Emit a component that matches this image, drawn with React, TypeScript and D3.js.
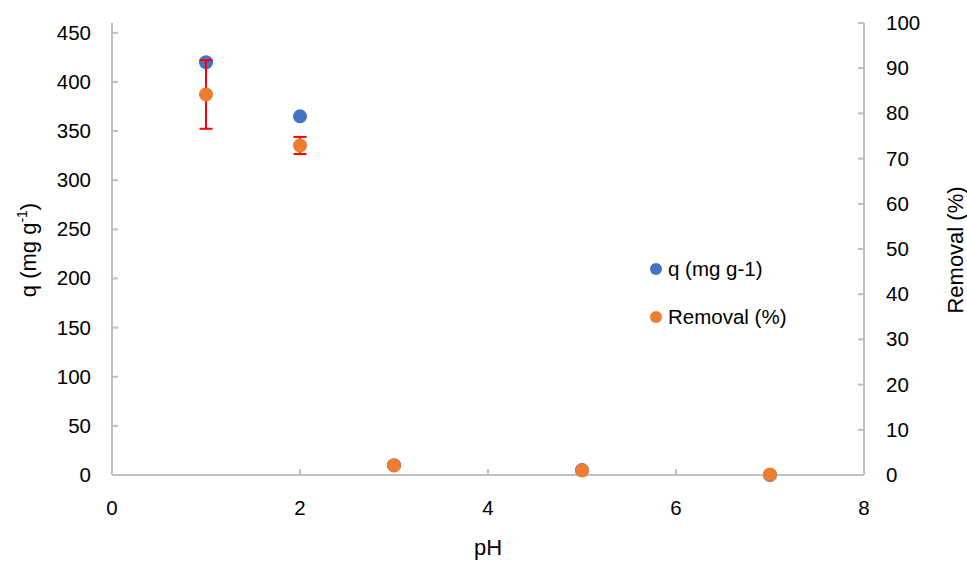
import React from "react";
import * as d3 from "d3";

const pH = [1, 2, 3, 5, 7];
const qValues = [420, 365, 10, 5, 0];
const removalValues = [84.2, 72.9, 2.1, 1.0, 0.1];
const removalErr = [7.6, 1.9, 0.3, 0, 0];
const xTicks = [0, 2, 4, 6, 8];
const leftTicks = [0, 50, 100, 150, 200, 250, 300, 350, 400, 450];
const rightTicks = [0, 10, 20, 30, 40, 50, 60, 70, 80, 90, 100];

const W = 967;
const H = 562;
const FONT = "'Liberation Sans', Arial, sans-serif";
const FS = 20.5;
const TFS = 22;
const AXIS = "#BFBFBF";
const BLUE = "#4472C4";
const ORANGE = "#ED7D31";

export default function App() {
  const x = d3.scaleLinear().domain([0, 8]).range([112, 864]);
  const yL = d3.scaleLinear().domain([0, 460]).range([475, 23]);
  const yR = d3.scaleLinear().domain([0, 100]).range([475, 23]);
  const r = 7;
  return (
    <svg width={W} height={H} style={{ position: "absolute", left: 0, top: 0, background: "#fff" }} fontFamily={FONT}>
      <rect width={W} height={H} fill="#fff" />
      <line x1={x(0)} x2={x(0)} y1={yL.range()[0]} y2={yL.range()[1]} stroke={AXIS} strokeWidth={2} />
      <line x1={x(8)} x2={x(8)} y1={yR.range()[0]} y2={yR.range()[1]} stroke={AXIS} strokeWidth={2} />
      <line x1={x(0)} x2={x(8)} y1={475} y2={475} stroke={AXIS} strokeWidth={2} />
      {xTicks.map((t) => (
        <g key={"x" + t}>
          <line x1={x(t)} x2={x(t)} y1={475} y2={469} stroke={AXIS} strokeWidth={2} />
          <text x={x(t)} y={515} textAnchor="middle" fontSize={FS} fill="#000">{t}</text>
        </g>
      ))}
      {leftTicks.map((t) => (
        <g key={"l" + t}>
          <line x1={x(0)} x2={x(0) + 6} y1={yL(t)} y2={yL(t)} stroke={AXIS} strokeWidth={2} />
          <text x={91} y={yL(t) + 7} textAnchor="end" fontSize={FS} fill="#000">{t}</text>
        </g>
      ))}
      {rightTicks.map((t) => (
        <g key={"r" + t}>
          <line x1={x(8) - 6} x2={x(8)} y1={yR(t)} y2={yR(t)} stroke={AXIS} strokeWidth={2} />
          <text x={886} y={yR(t) + 7} textAnchor="start" fontSize={FS} fill="#000">{t}</text>
        </g>
      ))}
      <text x={488} y={555} textAnchor="middle" fontSize={TFS} fill="#000">pH</text>
      <text transform={`translate(36,250) rotate(-90)`} textAnchor="middle" fontSize={TFS} fill="#000">
        q (mg g<tspan dy={-9} fontSize={14}>-1</tspan><tspan dy={9}>)</tspan>
      </text>
      <text transform={`translate(963,250) rotate(-90)`} textAnchor="middle" fontSize={TFS} fill="#000">Removal (%)</text>
      {pH.map((p, i) => (
        <circle key={"q" + i} cx={x(p)} cy={yL(qValues[i])} r={r} fill={BLUE} />
      ))}
      {pH.map((p, i) =>
        removalErr[i] > 0 ? (
          <g key={"e" + i} stroke="#FF0000" strokeWidth={2}>
            <line x1={x(p)} x2={x(p)} y1={yR(removalValues[i] + removalErr[i])} y2={yR(removalValues[i] - removalErr[i])} />
            <line x1={x(p) - 6.5} x2={x(p) + 6.5} y1={yR(removalValues[i] + removalErr[i])} y2={yR(removalValues[i] + removalErr[i])} />
            <line x1={x(p) - 6.5} x2={x(p) + 6.5} y1={yR(removalValues[i] - removalErr[i])} y2={yR(removalValues[i] - removalErr[i])} />
          </g>
        ) : null
      )}
      {pH.map((p, i) => (
        <circle key={"rm" + i} cx={x(p)} cy={yR(removalValues[i])} r={r} fill={ORANGE} />
      ))}
      <circle cx={656} cy={269} r={6} fill={BLUE} />
      <text x={668} y={276} fontSize={FS} fill="#000">q (mg g-1)</text>
      <circle cx={656} cy={317} r={6} fill={ORANGE} />
      <text x={668} y={324} fontSize={FS} fill="#000">Removal (%)</text>
    </svg>
  );
}
